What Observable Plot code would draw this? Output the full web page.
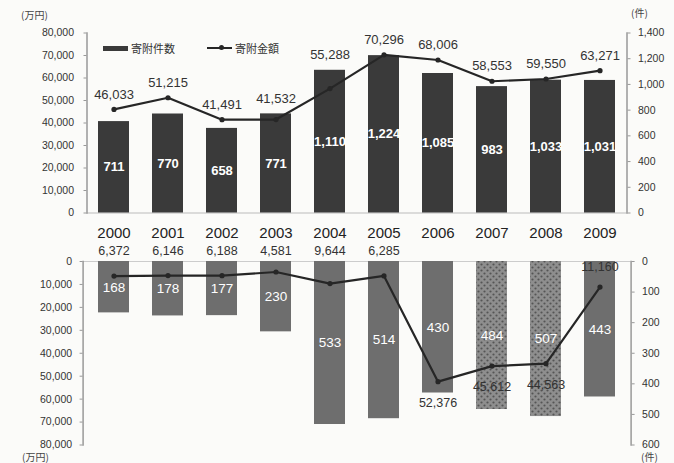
<!DOCTYPE html>
<html><head><meta charset="utf-8">
<script src="https://cdn.jsdelivr.net/npm/d3@7"></script>
<script src="https://cdn.jsdelivr.net/npm/@observablehq/plot@0.6"></script>
<style>
html,body{margin:0;padding:0;}
body{background:#fbfbf9;width:674px;height:463px;overflow:hidden;position:relative;font-family:"Liberation Sans",Arial,sans-serif;color:#333}
#top,#bot{position:absolute;left:0}
#top{top:0}
#bot{top:245px}
.unit{position:absolute;font-family:"Noto Sans CJK JP",sans-serif;font-size:10px;line-height:11px;color:#444}
#legend{position:absolute;top:40px;left:103px;font-family:"Noto Sans CJK JP",sans-serif;font-size:11px;color:#333;display:flex;align-items:center}
#legend .sw{display:inline-block;width:25px;height:5px;background:#3a3a3a;margin-right:3px}
#legend .ln{display:inline-block;position:relative;width:25px;height:2px;background:#262626;margin:0 3px 0 32px}
#legend .ln::after{content:"";position:absolute;left:12px;top:-2px;width:5px;height:5px;border-radius:50%;background:#262626}
</style></head><body>
<div id="top"></div><div id="bot"></div>
<div class="unit" style="left:21px;top:9px">(万円)</div>
<div class="unit" style="left:631px;top:7px">(件)</div>
<div class="unit" style="left:22px;top:451px">(万円)</div>
<div class="unit" style="left:641px;top:451px">(件)</div>
<div id="legend"><span class="sw"></span><span>寄附件数</span><span class="ln"></span><span>寄附金額</span></div>
<script>
// ---- data ----
const years = ["2000","2001","2002","2003","2004","2005","2006","2007","2008","2009"];
const donationCount = [711,770,658,771,1110,1224,1085,983,1033,1031];
const donationAmount = [46033,51215,41491,41532,55288,70296,68006,58553,59550,63271];
const outCount = [168,178,177,230,533,514,430,484,507,443];
const outAmount = [6372,6146,6188,4581,9644,6285,52376,45612,44563,11160];
const amountTicks = [0,10000,20000,30000,40000,50000,60000,70000,80000];
const countTicksTop = [0,200,400,600,800,1000,1200,1400];
const countTicksBottom = [0,100,200,300,400,500,600];
const stippledYears = ["2007","2008"];

const fmt = d3.format(",");
const K1 = 80000 / 1400;
const K2 = 80000 / 600;
const topData = years.map((y,i)=>({year:y, count:donationCount[i], amount:donationAmount[i]}));
const botData = years.map((y,i)=>({year:y, count:outCount[i], amount:outAmount[i]}));
const font = '"Liberation Sans", Arial, sans-serif';

const topPlot = Plot.plot({
  width: 674, height: 245,
  marginTop: 32.5, marginBottom: 32.5, marginLeft: 86.5, marginRight: 47.5,
  style: {background: "transparent", overflow: "visible", fontFamily: font, color: "#333"},
  x: {type: "band", domain: years, paddingInner: 0.43, paddingOuter: 0.215, label: null},
  y: {domain: [0, 80000], label: null},
  marks: [
    Plot.ruleY([0], {stroke: "#bbb"}),
    Plot.barY(topData, {x: "year", y: d => d.count * K1, fill: "#3a3a3a"}),
    Plot.text(topData, {x: "year", y: d => d.count * K1 / 2, text: d => fmt(d.count), fill: "white", fontSize: 13, fontWeight: "bold"}),
    Plot.line(topData, {x: "year", y: "amount", stroke: "#262626", strokeWidth: 2.2}),
    Plot.dot(topData, {x: "year", y: "amount", r: 2.6, fill: "#262626"}),
    Plot.text(topData, {x: "year", y: d => Math.max(d.amount, d.count * K1), dy: -15, text: d => fmt(d.amount), fontSize: 13, fill: "#333"}),
    Plot.axisY(amountTicks, {anchor: "left", tickSize: 3, tickPadding: 10, fontSize: 10.5, tickFormat: fmt, stroke: "#999"}),
    Plot.axisY(countTicksTop, {anchor: "right", y: d => d * K1, tickFormat: fmt, tickSize: 3, tickPadding: 8, fontSize: 10.5, stroke: "#999"}),
    Plot.frame({anchor: "left", stroke: "#999", strokeWidth: 1.5}),
    Plot.frame({anchor: "right", stroke: "#999", strokeWidth: 1.5}),
    Plot.axisX({tickSize: 0, tickPadding: 14, fontSize: 15, fill: "#222"})
  ]
});
document.getElementById("top").appendChild(topPlot);

const botPlot = Plot.plot({
  width: 674, height: 218,
  marginTop: 16, marginBottom: 18.5, marginLeft: 82.6, marginRight: 43.4,
  style: {background: "transparent", overflow: "visible", fontFamily: font, color: "#333"},
  x: {type: "band", domain: years, paddingInner: 0.42, paddingOuter: 0.21, label: null, axis: null},
  y: {domain: [0, 80000], reverse: true, label: null},
  marks: [
    Plot.ruleY([0], {stroke: "#ccc"}),
    Plot.barY(botData, {x: "year", y: d => d.count * K2, fill: d => stippledYears.includes(d.year) ? "url(#stip)" : "#6e6e6e"}),
    Plot.text(botData, {x: "year", y: d => d.count * K2 / 2, text: d => fmt(d.count), fill: "white", fontSize: 13.5}),
    Plot.line(botData, {x: "year", y: "amount", stroke: "#262626", strokeWidth: 2.2}),
    Plot.dot(botData, {x: "year", y: "amount", r: 2.6, fill: "#262626"}),
    // small values: labelled above the panel
    Plot.text(botData.filter(d => d.amount < 10000), {x: "year", y: () => 0, dy: -11, text: d => fmt(d.amount), fontSize: 12.5, fill: "#333"}),
    // large values in the middle: below the point
    Plot.text(botData.filter(d => d.amount >= 10000 && d.year !== years[years.length-1]), {x: "year", y: "amount", dy: 21, text: d => fmt(d.amount), fontSize: 12.5, fill: "#333"}),
    // last value: above the point
    Plot.text(botData.filter(d => d.amount >= 10000 && d.year === years[years.length-1]), {x: "year", y: "amount", dy: -20, text: d => fmt(d.amount), fontSize: 12.5, fill: "#333"}),
    Plot.axisY(amountTicks, {anchor: "left", tickSize: 3, tickPadding: 8, fontSize: 10.5, tickFormat: fmt, stroke: "#999"}),
    Plot.axisY(countTicksBottom, {anchor: "right", y: d => d * K2, tickFormat: fmt, tickSize: 3, tickPadding: 8, fontSize: 10.5, stroke: "#999"}),
    Plot.frame({anchor: "left", stroke: "#999", strokeWidth: 1.5}),
    Plot.frame({anchor: "right", stroke: "#999", strokeWidth: 1.5})
  ]
});
const defs = d3.select(botPlot).insert("defs", ":first-child");
const pat = defs.append("pattern").attr("id", "stip").attr("width", 6).attr("height", 6).attr("patternUnits", "userSpaceOnUse");
pat.append("rect").attr("width", 6).attr("height", 6).attr("fill", "#8e8e8e");
pat.append("circle").attr("cx", 1.5).attr("cy", 1.5).attr("r", 1.1).attr("fill", "#555");
pat.append("circle").attr("cx", 4.5).attr("cy", 4.5).attr("r", 1.1).attr("fill", "#555");
document.getElementById("bot").appendChild(botPlot);
</script>
</body></html>
